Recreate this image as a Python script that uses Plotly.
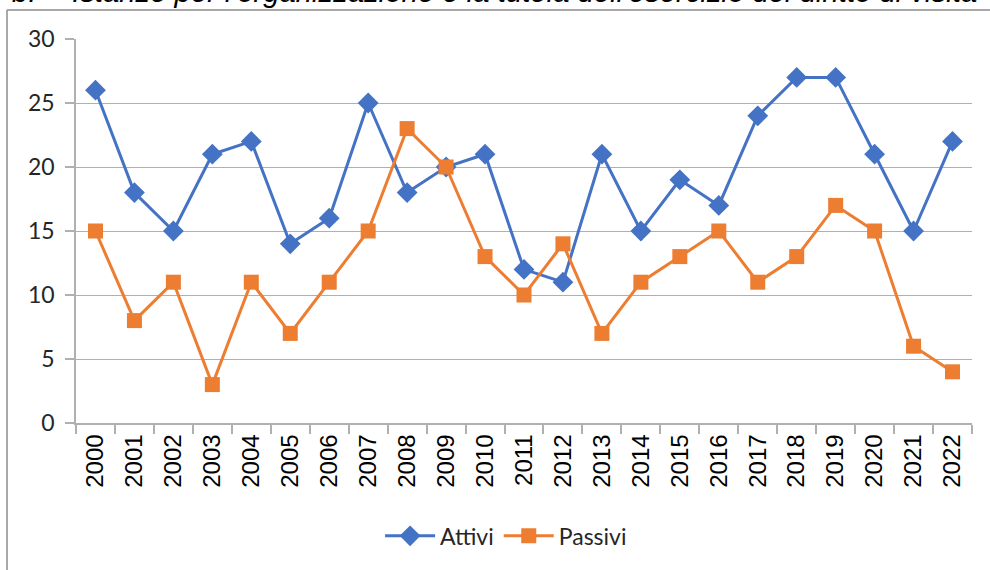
import plotly.graph_objects as go

years = [str(y) for y in range(2000, 2023)]
attivi = [26, 18, 15, 21, 22, 14, 16, 25, 18, 20, 21, 12, 11, 21, 15, 19, 17, 24, 27, 27, 21, 15, 22]
passivi = [15, 8, 11, 3, 11, 7, 11, 15, 23, 20, 13, 10, 14, 7, 11, 13, 15, 11, 13, 17, 15, 6, 4]

BLUE = "#4472C4"
ORANGE = "#ED7D31"
GRID = "#B0B0B0"

fig = go.Figure()
fig.add_trace(go.Scatter(x=years, y=attivi, name="Attivi", mode="lines+markers",
                         line=dict(color=BLUE, width=3),
                         marker=dict(symbol="diamond", size=16, color=BLUE)))
fig.add_trace(go.Scatter(x=years, y=passivi, name="Passivi", mode="lines+markers",
                         line=dict(color=ORANGE, width=3),
                         marker=dict(symbol="square", size=15, color=ORANGE)))

fig.update_layout(
    width=990, height=570,
    margin=dict(l=76, r=18, t=39, b=147),
    paper_bgcolor="white", plot_bgcolor="white",
    showlegend=True,
    legend=dict(orientation="h", x=0.48, xanchor="center", y=-0.294, yanchor="middle",
                font=dict(family="Lato, Open Sans, sans-serif", size=23, color="#262626"),
                itemwidth=50),
    xaxis=dict(type="category", range=[-0.5, 22.5], tickson="boundaries",
               ticks="outside", ticklen=9, tickcolor=GRID, tickwidth=1.5,
               showline=True, linecolor=GRID, linewidth=1.5, showgrid=False,
               tickangle=-90,
               tickfont=dict(family="Liberation Sans, Arial, sans-serif", size=24, color="#000000")),
    yaxis=dict(range=[0, 30], dtick=5, tick0=0,
               ticks="outside", ticklen=9, tickcolor=GRID, tickwidth=1.5,
               showline=True, linecolor=GRID, linewidth=1.5,
               showgrid=True, gridcolor=GRID, gridwidth=1.3, zeroline=False,
               tickfont=dict(family="Lato, Open Sans, sans-serif", size=23, color="#262626"),
               ticklabelstandoff=6),
    shapes=[
        dict(type="line", xref="paper", yref="paper", x0=-0.077, x1=1.05, y0=1.0755, y1=1.0755,
             line=dict(color="#8C8C8C", width=1.5)),
        dict(type="line", xref="paper", yref="paper", x0=-0.077, x1=-0.077, y0=1.0755, y1=-0.5,
             line=dict(color="#8C8C8C", width=1.5)),
    ],
    annotations=[
        dict(text="<i>b.</i>", xref="paper", yref="paper", x=-0.074, y=1.076, xanchor="left", yanchor="bottom",
             showarrow=False, font=dict(family="Liberation Sans, Arial, sans-serif", size=29, color="#000000")),
        dict(text="<i>Istanze per l'organizzazione e la tutela dell'esercizio del diritto di visita</i>",
             xref="paper", yref="paper", x=-0.007, y=1.076, xanchor="left", yanchor="bottom",
             showarrow=False, font=dict(family="Liberation Sans, Arial, sans-serif", size=29.3, color="#000000")),
    ],
)

fig.write_html("out.html", config={"displayModeBar": False},
               post_script="document.body.style.margin='0';")
